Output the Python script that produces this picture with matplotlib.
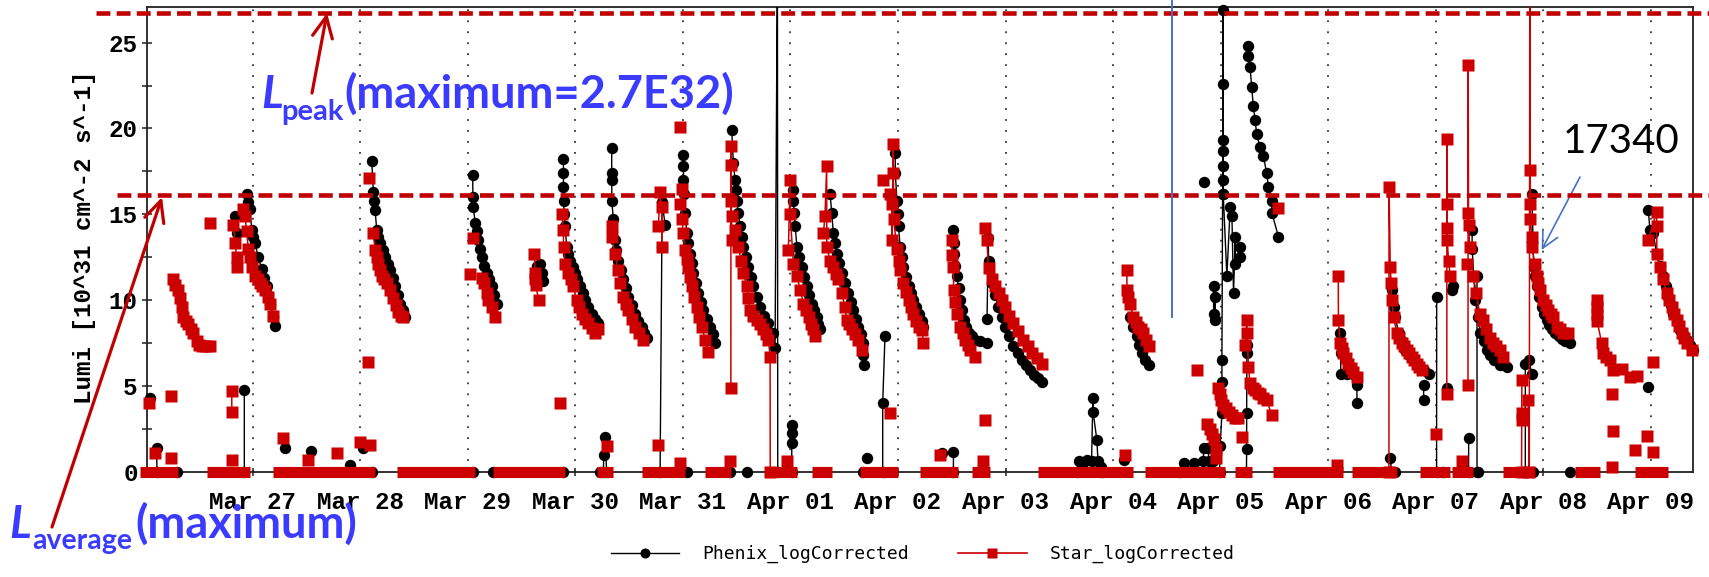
import numpy as np
import pandas as pd
import matplotlib
matplotlib.use("Agg")
import matplotlib.pyplot as plt
import matplotlib.dates as mdates
import matplotlib.transforms as mtransforms
from matplotlib.lines import Line2D

plt.rcParams['lines.scale_dashes'] = False

START = pd.Timestamp("2013-03-26 00:00")
N = None

# ---------------- data: days since Mar 26 00:00, luminosity in 1e31 cm^-2 s^-1
phenix_days = [
    0.045, N,
    0.107, 0.110, N,
    0.836, 0.851, N,
    0.922, 0.922, N,
    0.944, 0.959, 0.975, 0.991, 1.006, 1.021, 1.052, 1.084, 1.105, 1.130, 1.145, 1.161, 1.192, 1.207, N,
    1.300, N, 1.540, N, 1.905, N, 2.029, N,
    2.107, 2.122, 2.128, 2.138, 2.153, 2.165, 2.184, 2.207, 2.231, 2.254, 2.277, 2.300, 2.324, 2.347, 2.370, 2.393, 2.417, N,
    3.045, 3.048, 3.052, 3.068, 3.084, 3.099, 3.114, 3.130, 3.151, 3.177, 3.198, 3.223, 3.244, 3.269, N,
    3.642, 3.672, 3.688, 3.703, N,
    3.889, 3.889, 3.889, 3.890, 3.895, 3.904, 3.920, 3.932, 3.951, 3.974, 3.997, 4.020, 4.044, 4.067, 4.090, 4.121, 4.153, 4.184, 4.215, N,
    4.260, 4.265, 4.280, 4.290, N,
    4.338, 4.338, 4.338, 4.339, 4.353, 4.369, 4.382, 4.399, 4.423, 4.446, 4.469, 4.492, 4.524, 4.555, 4.586, 4.617, 4.639, 4.664, N,
    4.788, 4.804, 4.806, 4.835, N,
    5.005, 5.005, 5.005, 5.006, 5.020, 5.036, 5.051, 5.067, 5.083, 5.098, 5.121, 5.144, 5.168, 5.191, 5.222, 5.253, 5.276, 5.300, N,
    5.454, 5.469, 5.485, 5.493, 5.501, 5.516, 5.532, 5.547, 5.563, 5.586, 5.609, 5.632, 5.655, 5.687, 5.718, 5.755, 5.795, 5.841, 5.857, 5.879, 5.882, N,
    6.012, 6.013, 6.013, 6.013, N,
    6.028, 6.028, 6.034, 6.044, 6.060, 6.081, 6.106, 6.128, 6.153, 6.174, 6.198, 6.220, 6.244, 6.257, 6.275, N,
    6.368, 6.384, 6.399, 6.415, 6.430, 6.452, 6.477, 6.507, 6.538, 6.561, 6.585, 6.608, 6.631, 6.654, 6.678, 6.679, 6.680, N,
    6.711, N,
    6.858, 6.858, 6.879, N,
    6.974, 6.975, 6.990, 6.997, 7.005, 7.020, 7.036, 7.051, 7.074, 7.098, 7.121, 7.144, 7.167, 7.191, 7.222, 7.237, N,
    7.406, N,
    7.515, 7.516, N,
    7.516, 7.517, 7.518, 7.532, 7.548, 7.563, 7.579, 7.595, 7.610, 7.633, 7.656, 7.687, 7.718, 7.765, 7.827, N,
    7.828, 7.840, 7.842, 7.871, 7.902, 7.933, 7.965, 7.996, 8.034, 8.074, 8.113, 8.151, 8.189, 8.228, 8.265, 8.305, 8.337, N,
    8.66, 8.68, 8.72, 8.76, 8.80, 8.812, 8.814, 8.849, 8.86, 8.89, 8.90, N,
    9.097, N,
    9.158, 9.189, 9.221, 9.242, 9.268, 9.298, 9.330, N,
    9.62, 9.655, 9.75, 9.84, 9.841, 9.885, 9.89, 9.93, N,
    9.841, N,
    9.934, 9.935, 9.950, 9.951, N,
    9.990, 9.996, 10.012, 10.012, 10.012, 10.018, 10.019, 10.020, 10.020, 10.021, 10.021, 10.022, 10.024, 10.058, 10.089, 10.105, 10.120, 10.136, 10.136, 10.182, 10.182, N,
    10.240, 10.242, 10.242, 10.244, 10.246, N,
    10.257, 10.258, 10.273, 10.289, 10.304, 10.320, 10.335, 10.366, 10.397, 10.428, 10.444, 10.475, 10.476, 10.537, N,
    11.110, 11.115, 11.118, 11.174, 11.267, 11.268, N,
    11.577, 11.590, N,
    11.593, 11.608, 11.624, 11.655, 11.686, 11.717, 11.754, 11.794, 11.838, 11.887, 11.934, N,
    11.887, 11.888, N,
    12.008, 12.009, N,
    12.107, N,
    12.150, 12.160, N,
    12.306, 12.306, N,
    12.384, 12.384, N,
    12.338, 12.339, 12.353, 12.368, 12.391, 12.414, 12.445, 12.477, 12.508, 12.538, 12.600, 12.663, N,
    12.833, 12.833, 12.864, 12.895, N,
    12.895, 12.910, 12.926, 12.941, 12.963, 12.988, 13.009, 13.034, 13.055, 13.080, 13.111, 13.142, 13.173, 13.204, 13.251, N,
    13.976, N,
    13.976, 13.992, 14.023, 14.054, 14.085, 14.116, 14.139, 14.162, 14.186, 14.209, 14.240, 14.271, 14.302, 14.333, 14.364, 14.390,
]
phenix_lumi = [
    4.3, N,
    1.36, 0.0, N,
    14.9, 13.9, N,
    0.0, 4.76, N,
    16.2, 15.7, 15.3, 14.1, 13.7, 13.3, 12.5, 11.8, 11.3, 10.8, 10.3, 9.8, 9.0, 8.5, N,
    1.36, N, 1.2, N, 0.4, N, 1.36, N,
    18.1, 16.3, 15.8, 15.25, 14.1, 13.7, 13.3, 12.9, 12.5, 12.1, 11.75, 11.3, 10.8, 10.3, 9.8, 9.4, 9.0, N,
    17.3, 16.0, 15.4, 14.5, 14.0, 13.5, 13.0, 12.5, 12.0, 11.6, 11.2, 10.8, 10.3, 9.8, N,
    12.0, 12.1, 11.6, 11.1, N,
    18.2, 17.4, 16.6, 15.8, 15.0, 14.3, 13.1, 12.7, 12.3, 11.95, 11.6, 11.2, 10.8, 10.4, 10.0, 9.6, 9.2, 8.9, 8.65, N,
    0.0, 0.97, 2.0, 0.0, N,
    18.85, 17.4, 17.0, 15.8, 14.7, 13.5, 12.9, 12.3, 11.75, 11.2, 10.7, 10.2, 9.7, 9.2, 8.8, 8.45, 8.1, 7.8, N,
    0.0, 13.1, 15.7, 14.4, N,
    18.45, 17.8, 17.0, 16.2, 15.1, 13.9, 13.3, 12.7, 12.15, 11.6, 11.0, 10.4, 9.9, 9.4, 8.9, 8.45, 8.0, 7.5, N,
    19.9, 18.0, 17.0, 16.4, 15.8, 15.05, 14.3, 13.7, 13.1, 12.5, 11.9, 11.35, 10.8, 10.2, 9.6, 9.1, 8.65, 8.1, 7.2, 30.0, 0.0, N,
    0.0, 1.65, 2.24, 2.72, N,
    16.4, 15.8, 15.1, 14.3, 13.1, 12.5, 11.9, 11.35, 10.8, 10.3, 9.8, 9.4, 9.0, 8.6, 8.3, N,
    16.2, 15.1, 13.9, 13.3, 12.7, 12.15, 11.6, 11.0, 10.4, 9.9, 9.4, 8.9, 8.45, 8.0, 7.5, 6.8, 6.2, N,
    0.8, N,
    0.0, 4.0, 7.9, N,
    18.55, 17.4, 15.8, 15.0, 14.3, 13.1, 12.5, 11.9, 11.35, 10.8, 10.4, 10.0, 9.6, 9.2, 8.8, 8.45, N,
    1.07, N,
    0.0, 1.17, N,
    14.1, 13.3, 12.7, 12.0, 11.4, 10.7, 10.0, 9.4, 8.85, 8.45, 8.1, 7.9, 7.7, 7.6, 7.5, N,
    8.9, 13.6, 12.3, 11.0, 10.3, 9.6, 9.0, 8.45, 7.9, 7.3, 6.9, 6.5, 6.2, 5.9, 5.65, 5.45, 5.25, N,
    0.0, 0.6, 0.5, 0.7, 0.6, 4.3, 3.5, 1.85, 0.6, 0.3, 0.0, N,
    0.7, N,
    9.0, 8.45, 7.9, 7.4, 6.9, 6.5, 6.2, N,
    0.0, 0.5, 0.5, 0.6, 1.36, 1.36, 0.6, 0.6, N,
    16.9, N,
    10.8, 9.2, 10.2, 8.85, N,
    0.0, 1.5, 3.4, 5.25, 6.5, 16.2, 17.0, 17.8, 18.7, 19.3, 22.6, 26.9, 16.2, 11.4, 15.4, 14.9, 10.4, 13.7, 12.1, 13.1, 12.5, N,
    0.0, 1.3, 3.4, 6.9, 7.4, N,
    24.8, 24.2, 23.6, 22.4, 21.3, 20.5, 19.7, 18.9, 18.4, 17.4, 16.6, 15.8, 15.1, 13.7, N,
    8.1, 6.9, 5.7, 5.7, 5.05, 4.0, N,
    0.78, 0.0, N,
    10.6, 9.6, 9.0, 8.1, 7.6, 7.1, 6.8, 6.5, 6.2, 5.9, 5.7, N,
    5.05, 4.2, N,
    0.0, 10.2, N,
    4.86, N,
    10.6, 10.8, N,
    0.0, 1.95, N,
    0.0, 11.4, N,
    14.1, 13.0, 11.4, 10.0, 9.0, 8.1, 7.6, 7.1, 6.8, 6.5, 6.2, 6.1, N,
    0.0, 6.3, 6.5, 5.7, N,
    16.2, 11.9, 11.4, 10.8, 10.2, 9.6, 9.2, 8.85, 8.55, 8.3, 8.1, 7.9, 7.75, 7.6, 7.5, N,
    4.95, N,
    15.25, 14.1, 13.9, 12.7, 12.0, 11.4, 10.8, 10.2, 9.7, 9.2, 8.7, 8.25, 8.0, 7.7, 7.4, 7.1,
]
phenix_zero_days = [0.293, 2.107, 3.052, 3.237, 3.886, 4.229, 5.035, 5.438, 5.593, 6.675,
                    11.62, 12.07, 12.396, 12.907, 13.248]

star_days = [
    0.039, N, 0.092, N, 0.240, N, 0.240, N,
    0.262, 0.278, 0.308, 0.324, 0.340, 0.355, 0.380, 0.401, 0.426, 0.448, 0.479, 0.501, 0.526, 0.566, 0.603, N,
    0.603, N, 0.805, N,
    0.805, 0.806, N,
    0.820, 0.836, 0.851, 0.857, N,
    0.913, 0.929, 0.943, 0.959, 0.975, 0.991, 1.021, 1.045, 1.068, 1.091, 1.115, 1.143, 1.161, 1.192, N,
    1.285, N, 1.514, N, 1.781, N, 1.998, N, 2.091, N, 2.070, N, 2.085, N,
    2.122, 2.138, 2.153, 2.168, 2.184, 2.199, 2.221, 2.246, 2.277, 2.308, 2.331, 2.354, 2.379, 2.401, N,
    3.021, N, 3.052, N,
    3.130, 3.151, 3.177, 3.191, 3.223, 3.254, N,
    3.620, 3.625, 3.626, 3.630, 3.660, N,
    3.858, N,
    3.873, 3.889, 3.890, 3.904, 3.935, 3.958, 3.981, 4.013, 4.034, 4.059, 4.090, 4.121, 4.153, 4.184, 4.215, N,
    4.292, N,
    4.338, 4.339, 4.369, 4.399, 4.415, 4.446, 4.469, 4.492, 4.524, 4.555, 4.592, 4.632, N,
    4.772, N,
    4.772, 4.788, 4.804, 4.805, N,
    4.973, N, 4.973, N,
    4.973, 4.989, 4.990, 5.005, 5.020, 5.036, 5.051, 5.067, 5.083, 5.104, 5.129, 5.151, 5.176, 5.207, 5.237, N,
    5.439, N,
    5.446, 5.447, 5.448, 5.449, 5.452, 5.454, 5.485, 5.516, 5.541, 5.563, 5.594, 5.609, 5.625, 5.655, 5.687, 5.718, 5.749, 5.774, 5.795, 5.811, 5.812, N,
    5.965, N,
    5.981, 5.996, 5.997, 6.028, 6.060, 6.091, 6.121, 6.146, 6.168, 6.193, 6.214, 6.230, N,
    6.307, 6.321, 6.337, 6.338, 6.368, 6.399, 6.422, 6.445, 6.477, 6.507, 6.523, 6.545, 6.570, 6.600, 6.631, 6.663, N,
    6.926, N, 6.863, N,
    6.926, 6.942, 6.943, 6.957, 6.958, 6.960, 6.990, 7.005, 7.020, 7.051, 7.074, 7.098, 7.121, 7.144, 7.167, 7.191, 7.222, 7.237, N,
    7.392, N,
    7.501, 7.502, 7.516, 7.517, 7.532, 7.548, 7.579, 7.602, 7.625, 7.648, 7.671, 7.718, N,
    7.795, N, 7.810, N,
    7.810, 7.826, 7.842, 7.873, 7.904, 7.935, 7.966, 7.997, 8.034, 8.074, 8.118, 8.167, 8.206, 8.245, 8.291, 8.338, N,
    9.112, N,
    9.128, 9.129, 9.143, 9.158, 9.189, 9.214, 9.235, 9.258, 9.282, 9.307, 9.330, N,
    9.780, N,
    9.875, 9.900, 9.919, 9.935, 9.955, 9.960, N,
    9.977, 9.990, 10.005, 10.025, 10.050, 10.080, 10.105, 10.136, 10.160, N,
    10.198, N,
    10.229, 10.244, 10.245, 10.259, 10.273, 10.297, 10.320, 10.343, 10.366, 10.397, 10.428, 10.475, N,
    10.537, N,
    11.079, N,
    11.094, 11.095, 11.110, 11.126, 11.141, 11.166, 11.187, 11.212, 11.234, 11.265, N,
    11.565, 11.566, 11.577, 11.585, 11.590, 11.608, 11.639, 11.660, 11.686, 11.708, 11.732, 11.754, 11.779, 11.801, 11.826, 11.847, 11.872, N,
    12.005, N,
    12.103, 12.104, 12.105, 12.106, 12.107, 12.119, 12.135, N,
    12.244, N,
    12.300, 12.302, 12.304, 12.305, 12.316, N,
    12.291, N,
    12.349, 12.378, 12.408, 12.440, 12.470, 12.501, 12.532, 12.563, 12.594, 12.625, N,
    12.798, 12.799, 12.800, 12.801, N,
    12.861, 12.870, 12.875, 12.878, 12.880, 12.881, 12.892, 12.893, 12.923, 12.939, 12.954, 12.970, 13.000, 13.023, 13.046, 13.070, 13.093, 13.124, 13.155, 13.186, 13.232, N,
    13.636, N,
    13.497, 13.498, 13.499, 13.500, 13.543, 13.558, 13.583, 13.621, 13.651, 13.729, 13.806, 13.868, N,
    13.636, N, 13.651, N, 13.853, N, 13.962, N, 14.023, N, 14.023, N,
    13.976, 14.054, 14.055, 14.056, 14.085, 14.116, 14.147, 14.169, 14.193, 14.214, 14.240, 14.262, 14.287, 14.308, 14.333, 14.380,
]
star_lumi = [
    4.0, N, 1.1, N, 0.8, N, 4.4, N,
    11.2, 10.9, 10.6, 10.1, 9.6, 9.0, 8.8, 8.6, 8.3, 8.1, 7.6, 7.4, 7.3, 7.3, 7.3, N,
    14.5, N, 0.7, N,
    4.7, 3.5, N,
    14.4, 13.3, 12.5, 11.9, N,
    15.3, 14.9, 14.0, 13.0, 12.5, 11.9, 11.4, 11.2, 11.0, 10.8, 10.6, 10.2, 9.8, 9.1, N,
    1.95, N, 0.7, N, 1.07, N, 1.75, N, 1.55, N, 6.4, N, 17.1, N,
    13.9, 12.9, 12.5, 12.1, 11.75, 11.4, 11.2, 11.0, 10.6, 10.1, 9.7, 9.3, 9.1, 9.0, N,
    11.5, N, 13.6, N,
    11.3, 11.0, 10.4, 10.0, 9.6, 9.0, N,
    12.7, 11.6, 11.2, 10.9, 10.0, N,
    4.0, N,
    15.0, 14.1, 13.1, 12.1, 11.6, 11.2, 10.8, 10.0, 9.6, 9.2, 8.9, 8.65, 8.4, 8.1, 8.3, N,
    1.5, N,
    14.3, 13.7, 12.7, 11.75, 11.0, 10.2, 9.8, 9.4, 8.9, 8.45, 8.1, 7.7, N,
    1.55, N,
    14.3, 16.3, 15.4, 13.1, N,
    0.5, N, 20.1, N,
    15.6, 16.5, 14.7, 13.9, 12.9, 12.4, 11.9, 11.35, 10.8, 10.2, 9.6, 9.0, 8.45, 7.7, 7.0, N,
    0.6, N,
    4.85, 19.0, 17.9, 15.8, 14.9, 13.5, 14.1, 13.1, 12.3, 11.6, 10.8, 10.1, 9.4, 9.1, 8.85, 8.6, 8.3, 8.0, 7.7, 6.7, 0.0, N,
    0.6, N,
    12.9, 17.0, 15.0, 12.1, 11.4, 10.6, 9.8, 9.4, 9.0, 8.6, 8.3, 7.9, N,
    13.9, 14.9, 17.8, 13.1, 12.3, 11.9, 11.5, 11.2, 10.4, 9.6, 8.85, 8.6, 8.3, 8.0, 7.7, 7.1, N,
    3.4, N, 17.0, N,
    16.2, 15.6, 13.5, 19.1, 17.4, 14.7, 13.0, 12.3, 11.75, 11.0, 10.5, 10.0, 9.6, 9.2, 8.8, 8.45, 8.25, 7.5, N,
    0.97, N,
    13.5, 12.6, 11.9, 10.6, 9.9, 9.2, 8.45, 8.1, 7.7, 7.4, 7.1, 6.7, N,
    0.6, N, 3.0, N,
    14.2, 13.5, 11.85, 11.2, 10.8, 10.4, 10.0, 9.6, 9.1, 8.65, 8.2, 7.7, 7.3, 6.9, 6.6, 6.3, N,
    0.97, N,
    11.75, 10.6, 10.2, 9.8, 9.0, 8.7, 8.45, 8.3, 8.1, 7.7, 7.3, N,
    5.9, N,
    2.8, 2.5, 2.2, 1.9, 1.3, 0.8, N,
    4.9, 4.5, 4.2, 3.9, 3.7, 3.5, 3.3, 3.15, 3.1, N,
    2.0, N,
    7.4, 8.85, 8.1, 6.1, 5.15, 4.9, 4.76, 4.6, 4.5, 4.3, 4.2, 3.3, N,
    15.35, N,
    0.4, N,
    11.4, 8.85, 7.5, 7.2, 6.9, 6.6, 6.3, 6.05, 5.8, 5.5, N,
    0.0, 16.6, 11.95, 11.0, 10.0, 9.0, 8.1, 7.8, 7.5, 7.3, 7.1, 6.9, 6.7, 6.5, 6.3, 6.1, 5.9, N,
    2.2, N,
    4.5, 19.4, 15.6, 14.2, 13.5, 12.3, 11.4, N,
    0.6, N,
    5.05, 23.7, 15.1, 14.4, 13.1, N,
    12.1, N,
    11.4, 10.4, 9.2, 8.85, 8.3, 7.8, 7.5, 7.3, 7.1, 6.7, N,
    0.0, 3.0, 3.4, 5.35, N,
    4.2, 0.0, 30.0, 17.6, 15.6, 14.7, 13.7, 13.1, 12.1, 11.4, 11.0, 10.6, 10.0, 9.7, 9.4, 9.2, 9.0, 8.45, 8.3, 8.1, 8.1, N,
    0.3, N,
    10.0, 9.6, 9.2, 8.8, 7.5, 6.9, 6.7, 6.5, 5.9, 6.0, 5.5, 5.6, N,
    4.5, N, 2.4, N, 1.26, N, 2.1, N, 1.17, N, 6.4, N,
    13.5, 15.15, 14.3, 12.7, 11.95, 11.2, 10.4, 10.0, 9.6, 9.2, 8.85, 8.5, 8.1, 7.8, 7.5, 7.1,
]
# STAR readings stuck at zero: (first day, last day) of each run
star_zero_start = [-0.048, 0.572, 1.192, 2.344, 3.237, 4.198, 4.617, 5.205, 5.763, 6.197, 6.647, 7.204,
                   7.685, 8.305, 9.297, 10.134, 10.490, 11.218, 11.854, 12.148, 12.628, 12.768, 13.295, 13.853]
star_zero_end = [0.308, 0.975, 2.137, 3.067, 3.905, 4.353, 5.019, 5.450, 6.058, 6.383, 7.003, 7.561,
                 7.855, 9.188, 10.041, 10.289, 11.140, 11.637, 12.133, 12.349, 12.753, 12.907, 13.527, 14.163]

peak_level = 26.73      # L_peak maximum (2.7E32)
average_level = 16.1    # L_average maximum
fill_17340_day, fill_17340_lumi = 12.985, 12.92
y_max = 27.06
x_min_day, x_max_day = 0.0144, 14.395

# ---------------- styling
BLACK = "#000000"
RED = "#cc0000"
DARKRED = "#c00000"
BLUE_TXT = "#3b3bff"
BLUE_LINE = "#4472c4"
MONO = "Liberation Mono"
MS_P = 8.2
MS_S = 8.2


def arr(a):
    return np.array([np.nan if v is None else v for v in a], dtype=float)


pdays, plumi = arr(phenix_days), arr(phenix_lumi)
sdays, slumi = arr(star_days), arr(star_lumi)
assert len(pdays) == len(plumi), (len(pdays), len(plumi))
assert len(sdays) == len(slumi), (len(sdays), len(slumi))

base = mdates.date2num(START)

W, H = 1709, 577
fig = plt.figure(figsize=(W / 100, H / 100), dpi=100)
ax = fig.add_axes([146.7 / W, 1 - 471.7 / H, (1693.3 - 146.7) / W, (471.7 - 7.3) / H])
ax.set_xlim(base + x_min_day, base + x_max_day)
ax.set_ylim(0, y_max)

# Phenix
ax.plot(base + pdays, plumi, color=BLACK, lw=1.0, zorder=3)
ax.plot(base + pdays, np.where(plumi <= y_max, plumi, np.nan), ls='none', marker='o', ms=MS_P,
        color=BLACK, mec='none', zorder=3, clip_on=False)
ax.plot(base + arr(phenix_zero_days), np.zeros(len(phenix_zero_days)), ls='none', marker='o', ms=MS_P,
        color=BLACK, mec='none', zorder=3, clip_on=False)

# Star
for a, b in zip(star_zero_start, star_zero_end):
    ax.plot([base + a, base + b], [0, 0], color=RED, lw=8.0, solid_capstyle='butt', zorder=4, clip_on=False)
ax.plot(base + sdays, slumi, color=RED, lw=1.1, zorder=4)
ax.plot(base + sdays, np.where(slumi <= y_max, slumi, np.nan), ls='none', marker='s', ms=MS_S,
        color=RED, mec='none', zorder=4, clip_on=False)

# axes styling
for s in ax.spines.values():
    s.set_color('#222222')
    s.set_linewidth(1.3)
    s.set_zorder(2.5)

ax.xaxis.set_major_locator(mdates.DayLocator())
ax.xaxis.set_major_formatter(mdates.DateFormatter('%b %d'))
ax.yaxis.set_major_locator(matplotlib.ticker.MultipleLocator(5))
ax.yaxis.set_minor_locator(matplotlib.ticker.MultipleLocator(2.5))
ax.tick_params(axis='y', which='both', direction='inout', length=7, width=1.1, color='#222222',
               right=False, pad=3)
ax.tick_params(axis='x', which='major', direction='inout', length=6, width=1.1, color='#222222',
               top=False, pad=11)
for lab in ax.get_xticklabels() + ax.get_yticklabels():
    lab.set_fontfamily(MONO)
    lab.set_fontweight('bold')
    lab.set_fontsize(17.5)
ax.grid(axis='x', which='major', color='#444444', lw=1.4, linestyle=(0, (1.3, 6.6)), zorder=1)
ax.set_axisbelow(True)

ax.set_ylabel("Lumi [10^31 cm^-2 s^-1]", fontfamily=MONO, fontweight='bold', fontsize=17.5)
ax.yaxis.set_label_coords((96 - 146.7) / (1693.3 - 146.7), 0.505)

# legend
h1 = Line2D([], [], color=BLACK, lw=1.0, marker='o', ms=7.2, mec='none')
h2 = Line2D([], [], color=RED, lw=1.2, marker='s', ms=7.4, mec='none')
fig.legend([h1, h2], ["Phenix_logCorrected", "Star_logCorrected"], loc='center',
           bbox_to_anchor=(0.540, 1 - 554 / H), ncol=2, frameon=False,
           prop={'family': 'DejaVu Sans Mono', 'size': 13}, handlelength=3.8,
           handletextpad=1.3, columnspacing=2.7)

# reference levels (extend beyond the frame)
blend = mtransforms.blended_transform_factory(ax.transAxes, ax.transData)
ax.plot([(96 - 146.7) / 1546.6, 1.011], [peak_level, peak_level], transform=blend, color=DARKRED,
        lw=3.3, dashes=(10, 4.5), dash_capstyle='butt', clip_on=False, zorder=6)
ax.plot([(117 - 146.7) / 1546.6, 1.011], [average_level, average_level], transform=blend, color=DARKRED,
        lw=3.3, dashes=(10, 4.5), dash_capstyle='butt', clip_on=False, zorder=6)

# blue marker line near Apr 05
ax.plot([base + 9.545, base + 9.545], [9.03, 27.6], color=BLUE_LINE, lw=1.4, clip_on=False, zorder=7)


def fx(px):
    return px / W


def fy(py):
    return 1 - py / H


# arrows
ax.annotate('', xy=(base + 1.691, peak_level), xycoords='data', xytext=(fx(312), fy(93)),
            textcoords='figure fraction', annotation_clip=False,
            arrowprops=dict(arrowstyle='->,head_length=0.75,head_width=0.36', color=DARKRED, lw=2.3,
                            shrinkA=0, shrinkB=0, mutation_scale=20))
ax.annotate('', xy=(base + 0.157, average_level - 0.1), xycoords='data', xytext=(fx(52), fy(527)),
            textcoords='figure fraction', annotation_clip=False,
            arrowprops=dict(arrowstyle='->,head_length=0.75,head_width=0.36', color=DARKRED, lw=2.3,
                            shrinkA=0, shrinkB=0, mutation_scale=20))
ax.annotate('', xy=(base + fill_17340_day, fill_17340_lumi), xycoords='data', xytext=(fx(1580), fy(177)),
            textcoords='figure fraction', annotation_clip=False,
            arrowprops=dict(arrowstyle='->,head_length=0.6,head_width=0.3', color=BLUE_LINE, lw=1.2,
                            shrinkA=0, shrinkB=0, mutation_scale=20))

# annotation texts
BIG = 32.5
SUB = 21
fig.text(fx(261), fy(108), "L", color=BLUE_TXT, fontsize=BIG, family='Lato', weight='bold',
         style='italic', va='baseline', ha='left')
fig.text(fx(281), fy(120), "peak", color=BLUE_TXT, fontsize=SUB, family='Lato', weight='bold',
         va='baseline', ha='left')
fig.text(fx(344), fy(108), "(maximum=2.7E32)", color=BLUE_TXT, fontsize=BIG, family='Lato', weight='bold',
         va='baseline', ha='left')

fig.text(fx(9), fy(538), "L", color=BLUE_TXT, fontsize=BIG, family='Lato', weight='bold',
         style='italic', va='baseline', ha='left')
fig.text(fx(32), fy(549), "average", color=BLUE_TXT, fontsize=SUB - 0.5, family='Lato', weight='bold',
         va='baseline', ha='left')
fig.text(fx(135), fy(538), "(maximum)", color=BLUE_TXT, fontsize=BIG, family='Lato', weight='bold',
         va='baseline', ha='left')

fig.text(fx(1563), fy(153), "17340", color='black', fontsize=29, family='Lato',
         va='baseline', ha='left')

fig.savefig("out.png", dpi=100)
